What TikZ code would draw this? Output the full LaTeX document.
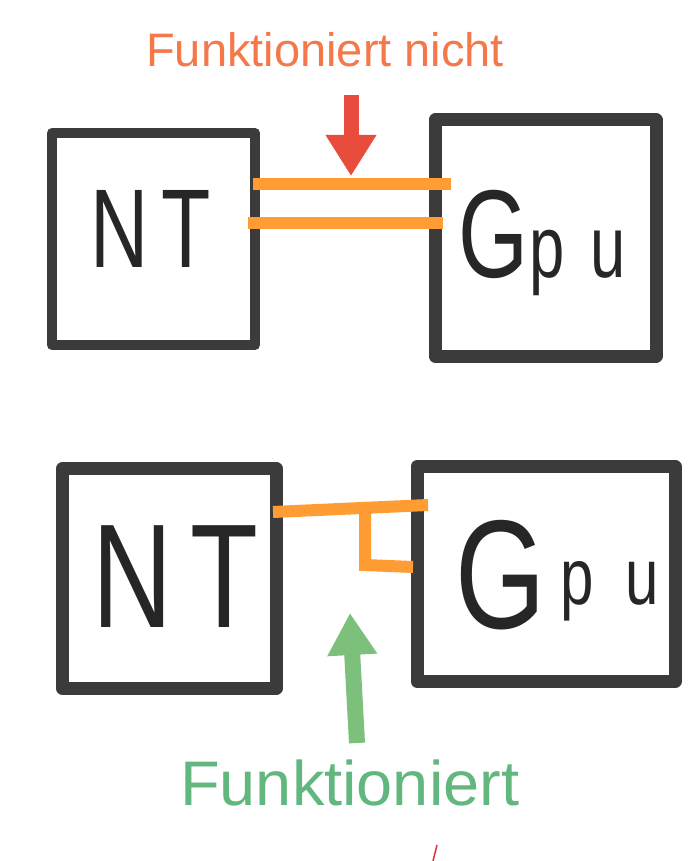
\documentclass[tikz,border=0pt]{standalone}
\usepackage{fontspec}
\setmainfont{Liberation Sans}
\usetikzlibrary{arrows.meta}
\definecolor{boxgray}{HTML}{3B3B3B}
\definecolor{wireor}{HTML}{FF9C33}
\definecolor{txtor}{HTML}{F4784A}
\definecolor{arrred}{HTML}{E84C3D}
\definecolor{txtgreen}{HTML}{62B77F}
\definecolor{arrgreen}{HTML}{7DC07B}
\definecolor{tickred}{HTML}{E0303A}
\begin{document}
\begin{tikzpicture}[x=1pt,y=-1pt,
  box/.style={draw=boxgray, rectangle, inner sep=0pt, line join=round},
  hand/.style={text=black!85, inner sep=0pt, anchor=base west},
  wire/.style={draw=wireor, line width=12pt, line cap=butt},
  lbl/.style={inner sep=0pt, anchor=base west}]
\useasboundingbox (0,0) rectangle (700,861);
\fill[white] (0,0) rectangle (700,861);

% top row
\node[box, line width=10pt, minimum width=203pt, minimum height=212pt] (nt1) at (153.5,239) {};
\node[box, line width=13pt, minimum width=221pt, minimum height=236pt] (gpu1) at (545.5,238) {};
\node[hand, xscale=0.72] (nt1t) at (90,267) {\fontsize{112}{112}\selectfont N\hspace{18pt}T};
\node[hand, xscale=0.72] (gpu1t) at (458,277) {\fontsize{125}{125}\selectfont G\fontsize{88}{88}\selectfont\hspace{2pt}p\hspace{36pt}u};

\coordinate (a1) at (253,184); \coordinate (b1) at (451,184);
\coordinate (a2) at (248,223); \coordinate (b2) at (443,223);
\draw[wire] (a1) -- (b1);
\draw[wire] (a2) -- (b2);

\node[lbl, text=txtor, font=\fontsize{47}{50}\selectfont] (lbl1) at (146,67) {Funktioniert nicht};
\coordinate (r0) at (351,95); \coordinate (r1) at (351,176);
\draw[arrred, line width=15pt, -{Triangle[width=48pt,length=41pt]}] (r0) -- (r1);

% bottom row
\node[box, line width=13pt, minimum width=213.5pt, minimum height=220pt] (nt2) at (169.25,578.5) {};
\node[box, line width=13pt, minimum width=258pt, minimum height=215pt] (gpu2) at (546,574) {};
\node[hand, xscale=0.75] (nt2t) at (92,627) {\fontsize{148}{148}\selectfont N\hspace{24pt}T};
\node[hand, xscale=0.75] (gpu2t) at (455,628) {\fontsize{155}{155}\selectfont G{\fontsize{80}{80}\selectfont\raisebox{24pt}{\hspace{20pt}p\hspace{42pt}u}}};

\coordinate (c1) at (273,512); \coordinate (d1) at (428,505);
\coordinate (c2) at (365,509); \coordinate (c3) at (365,565); \coordinate (d2) at (413,567);
\draw[wire] (c1) -- (d1);
\draw[wire, line join=miter] (c2) -- (c3) -- (d2);

\coordinate (g0) at (357,743); \coordinate (g1) at (350,613);
\draw[arrgreen, line width=16pt, -{Triangle[width=47pt,length=42pt]}] (g0) -- (g1);
\node[lbl, text=txtgreen, font=\fontsize{63}{66}\selectfont, xscale=1.03] (lbl2) at (180,805) {Funktioniert};

\coordinate (t0) at (437,845); \coordinate (t1) at (433,861);
\draw[tickred, line width=1.5pt] (t0) -- (t1);
\end{tikzpicture}
\end{document}
